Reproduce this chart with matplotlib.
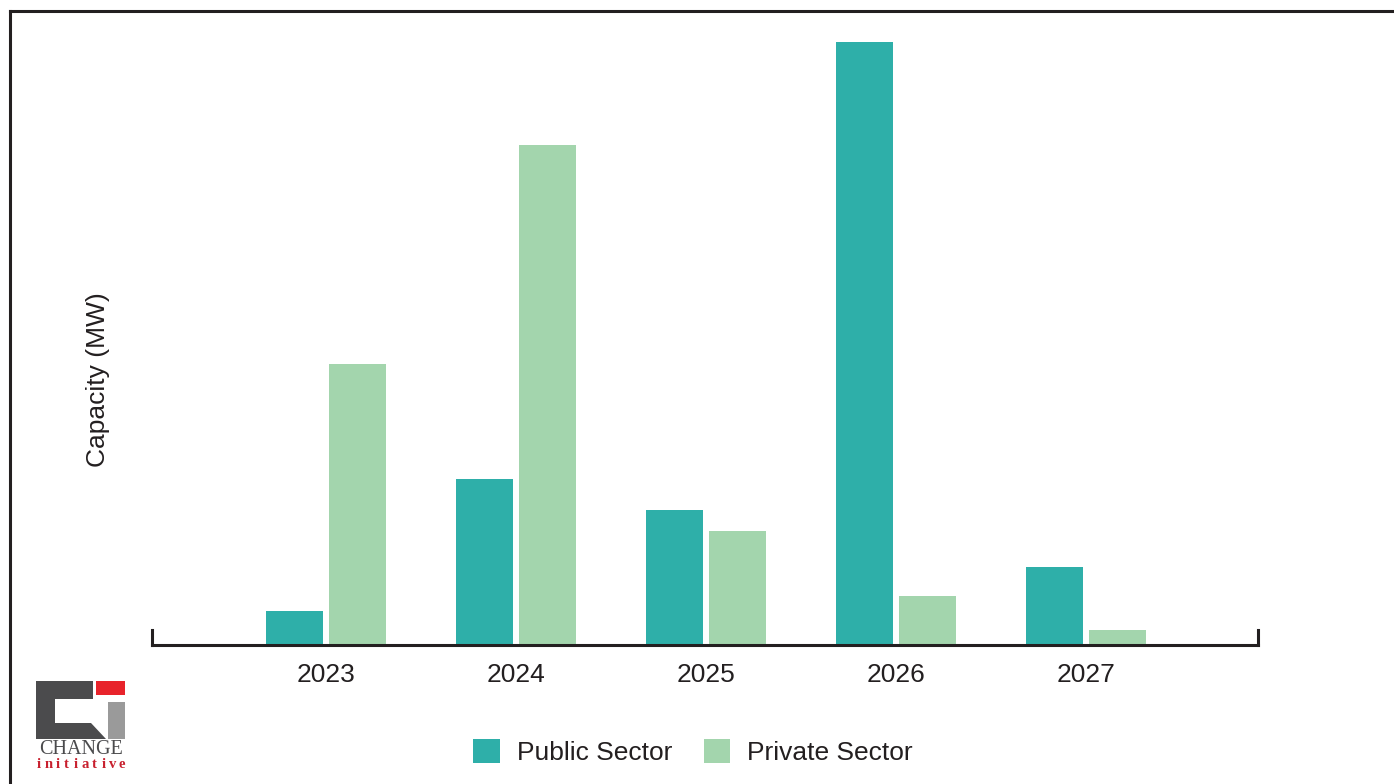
import matplotlib
matplotlib.use("Agg")
import matplotlib.pyplot as plt
from matplotlib.patches import Patch, Polygon, Rectangle
from matplotlib.lines import Line2D
import numpy as np

plt.rcParams['font.family'] = ['Liberation Sans', 'DejaVu Sans']

years = ["2023", "2024", "2025", "2026", "2027"]
public_sector = [34, 166, 135, 603, 78]
private_sector = [281, 500, 114, 49, 15]
series_names = ["Public Sector", "Private Sector"]

TEAL = "#2EAFA9"
MINT = "#A3D5AD"
INK = "#231F20"

W, H = 1394, 784
fig = plt.figure(figsize=(W / 100, H / 100), dpi=100)
fig.patch.set_facecolor("white")


def fx(px):
    return px / W


def fy(py):
    return 1 - py / H


# plot area
ax_left, ax_right, ax_top, ax_bottom = 152, 1258, 42, 644.5
ax = fig.add_axes([fx(ax_left), fy(ax_bottom), (ax_right - ax_left) / W, (ax_bottom - ax_top) / H])

x = np.arange(len(years))
width = 0.3
offset = 0.166
ax.bar(x - offset, public_sector, width, color=TEAL, label=series_names[0], zorder=1)
ax.bar(x + offset, private_sector, width, color=MINT, label=series_names[1], zorder=1)

ax.set_xlim(-0.916, 4.905)
ax.set_ylim(0, ax_bottom - ax_top)
ax.set_xticks(x)
ax.set_xticklabels(years, fontsize=19, color=INK)
ax.set_yticks([])
ax.tick_params(axis="x", length=0, pad=13.5)

ax.spines["top"].set_visible(False)
for side in ("bottom", "left", "right"):
    sp = ax.spines[side]
    sp.set_color(INK)
    sp.set_linewidth(2.2)
    sp.set_capstyle("projecting")
    sp.set_zorder(3)
ax.spines["left"].set_bounds(0, 15)
ax.spines["right"].set_bounds(0, 15)
ax.patch.set_alpha(0)

fig.text(fx(98), fy(380), "Capacity (MW)", rotation=90, ha="center", va="center",
         fontsize=19, color=INK)

# legend
handles = [Patch(facecolor=TEAL, edgecolor="none"), Patch(facecolor=MINT, edgecolor="none")]
fig.legend(handles, series_names, loc="center", bbox_to_anchor=(fx(693), fy(752)),
           ncol=2, frameon=False, fontsize=19, handlelength=1.0, handleheight=1.0,
           handletextpad=0.65, columnspacing=1.2, borderpad=0, labelcolor=INK)

# outer frame (top and left edges)
fig.add_artist(Line2D([fx(9.5), fx(9.5)], [fy(11), fy(790)], color=INK, lw=2.2,
                      transform=fig.transFigure, solid_capstyle="projecting"))
fig.add_artist(Line2D([fx(9.5), fx(1400)], [fy(11), fy(11)], color=INK, lw=2.2,
                      transform=fig.transFigure, solid_capstyle="projecting"))

# logo
c_shape = [(36, 681), (93, 681), (93, 699), (55, 699), (55, 723), (91, 723), (106, 739), (36, 739)]
fig.add_artist(Polygon([(fx(a), fy(b)) for a, b in c_shape], closed=True,
                       facecolor="#4B4B4D", edgecolor="none", transform=fig.transFigure))
fig.add_artist(Rectangle((fx(96), fy(695)), fx(125) - fx(96), fy(681) - fy(695),
                         facecolor="#E8232B", edgecolor="none", transform=fig.transFigure))
fig.add_artist(Rectangle((fx(108), fy(739)), fx(125) - fx(108), fy(702) - fy(739),
                         facecolor="#9A9A9A", edgecolor="none", transform=fig.transFigure))
fig.text(fx(80.5), fy(750), "CHANGE", ha="center", va="center", fontsize=14.5,
         family="Liberation Serif", color="#4B4B4D")
word = "initiative"
xs = np.linspace(39, 122, len(word))
for ch, xp in zip(word, xs):
    fig.text(fx(xp), fy(764), ch, ha="center", va="center", fontsize=10.5,
             family="Liberation Serif", weight="bold", color="#C8202E")

fig.savefig("out.png", dpi=100, facecolor="white")
